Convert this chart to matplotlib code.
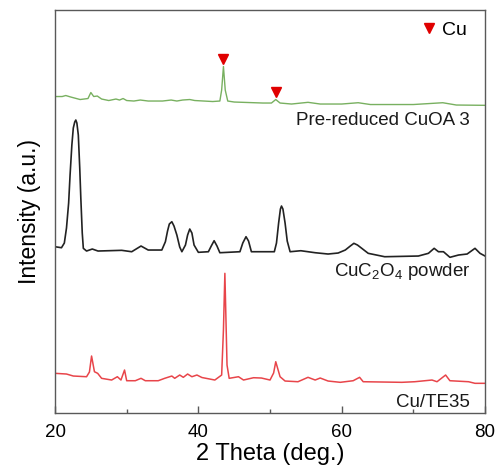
import matplotlib
matplotlib.use("Agg")
import matplotlib.pyplot as plt
from matplotlib.lines import Line2D
from matplotlib.ticker import MultipleLocator
import numpy as np

plt.rcParams.update({
    "font.family": ["Liberation Sans", "DejaVu Sans"],
    "mathtext.default": "regular",
    "axes.linewidth": 1.0,
})

# 2θ (deg) and intensity (a.u., traces already stacked)
tt_green = [20.0, 21.0, 21.5, 22.2, 23.5, 24.6, 25.0, 25.4, 25.9, 26.5, 27.5, 28.5,
            29.0, 29.5, 30.0, 31.0, 31.9, 33.0, 35.0, 36.2, 37.0, 37.8, 38.8, 39.5,
            42.0, 43.0, 43.25, 43.5, 43.75, 44.1, 45.0, 47.0, 49.0, 50.2, 50.8, 51.4,
            53.0, 55.3, 57.0, 60.0, 62.3, 64.0, 70.0, 74.1, 76.0, 80.0]
i_green = [316.5, 316.5, 317.5, 316, 313.5, 314.5, 320.5, 316.5, 317, 314, 312.5, 314,
           313, 314.5, 312.5, 312, 313, 312, 312, 313, 312, 313, 313.5, 312.5,
           311.5, 312, 323, 346.5, 323, 312, 311, 310.5, 310, 310, 313.5, 310,
           309, 310.7, 309, 309, 310.3, 308.5, 308.5, 310.3, 308, 307.7]

tt_black = [20.0, 20.9, 21.3, 21.6, 21.9, 22.1, 22.35, 22.55, 22.75, 22.9, 23.05, 23.25,
            23.45, 23.6, 23.8, 23.95, 24.4, 25.2, 26.0, 29.3, 30.7, 32.0, 33.0, 34.9,
            35.4, 35.7, 35.95, 36.3, 36.6, 37.0, 37.4, 37.7, 38.2, 38.5, 38.8, 39.1,
            39.4, 40.0, 41.4, 41.8, 42.2, 42.6, 43.0, 45.8, 46.2, 46.65, 47.0, 47.4,
            50.6, 50.9, 51.2, 51.45, 51.6, 51.8, 52.1, 52.4, 52.8, 54.3, 56.3, 58.1,
            59.5, 60.5, 61.2, 61.7, 62.2, 62.8, 63.7, 66.0, 70.7, 72.1, 72.9, 73.5,
            74.2, 75.1, 76.3, 77.5, 78.6, 79.3, 80.0]
i_black = [166.3, 165.3, 170, 185, 210, 238, 268, 285, 291, 293, 290, 278,
           245, 215, 180, 164.7, 162, 164, 162, 162.7, 161.3, 167, 163, 163,
           171.3, 182, 189, 191.3, 187, 178, 166, 161.3, 168, 178, 184, 180,
           168, 160.7, 161.3, 167, 172.3, 167, 160.3, 161.3, 170, 176.3, 172, 161.3,
           161.3, 170, 190, 204, 207, 204, 190, 172, 161.3, 162.3, 160.3, 159,
           160, 163, 167, 169.7, 168, 164.7, 159.7, 156.3, 157, 159.7, 164.7, 161.3,
           161.3, 155.7, 158, 159, 164.7, 159.7, 157]

tt_red = [20.0, 21.6, 22.55, 24.4, 24.8, 25.1, 25.5, 25.95, 26.5, 27.9, 28.7, 29.2,
          29.7, 30.0, 31.2, 32.0, 32.6, 34.4, 35.3, 36.3, 36.7, 37.4, 37.9, 38.5,
          39.1, 39.8, 40.5, 42.3, 43.25, 43.5, 43.7, 44.0, 44.3, 45.6, 46.3, 47.7,
          48.8, 50.0, 50.5, 50.8, 51.4, 52.1, 53.9, 55.3, 56.3, 57.0, 58.1, 59.8,
          61.6, 62.5, 63.0, 68.4, 70.2, 72.6, 73.3, 74.5, 75.1, 77.7, 78.6, 80.0]
i_red = [39.7, 39, 37, 36.3, 41, 57, 41.3, 39.7, 34.7, 33, 36.3, 33,
         43, 32.3, 32.3, 34.7, 32.3, 32.3, 34.7, 37, 34.7, 38, 35.7, 39,
         36.3, 38, 35.5, 33, 38, 83, 139.7, 48, 34.7, 36.3, 33, 35.3,
         35, 33, 40, 51.3, 36.3, 32, 31.3, 35.7, 33, 35, 32, 30.7,
         32.3, 35.7, 31.3, 30.7, 31.3, 33, 31.3, 38, 32.3, 31.3, 29.7, 29.7]

cu_peaks = [43.5, 50.8]
labels = ["Pre-reduced CuOA 3", "CuC$_2$O$_4$ powder", "Cu/TE35"]
label_y = [293, 141.3, 11]

fig = plt.figure(figsize=(5.02, 4.73), dpi=100)
ax = fig.add_axes([0.1096, 0.1268, 0.8566, 0.8520])

ax.plot(tt_green, i_green, color="#78b060", lw=1.0)
ax.plot(tt_black, i_black, color="#222222", lw=1.2)
ax.plot(tt_red, i_red, color="#e8454a", lw=1.1)

cu_y = np.interp(cu_peaks, tt_green, i_green) + 8
ax.plot(cu_peaks, cu_y, "v", color="#e00000", ms=7.5, ls="none")

for txt, y in zip(labels, label_y):
    ax.text(77.9, y, txt, ha="right", va="center", fontsize=13.5, color="#1a1a1a")

handle = Line2D([], [], marker="v", color="#e00000", ls="none", ms=7.5)
ax.legend([handle], ["Cu"], loc="upper right", frameon=False, fontsize=14,
          handlelength=0.6, handletextpad=0.35, borderaxespad=0.2,
          bbox_to_anchor=(0.985, 1.0))

ax.set_xlim(20, 80)
ax.set_ylim(0, 403)
ax.xaxis.set_major_locator(MultipleLocator(20))
ax.xaxis.set_minor_locator(MultipleLocator(10))
ax.set_yticks([])
ax.tick_params(axis="x", which="major", direction="in", length=5, width=1,
               color="#595959", labelsize=13.5, pad=8)
ax.tick_params(axis="x", which="minor", direction="in", length=3, width=1,
               color="#595959")
for sp in ax.spines.values():
    sp.set_color("#595959")

ax.set_xlabel("2 Theta (deg.)", fontsize=17, labelpad=1)
ax.set_ylabel("Intensity (a.u.)", fontsize=16.5, labelpad=10)

fig.savefig("out.png", dpi=100)
